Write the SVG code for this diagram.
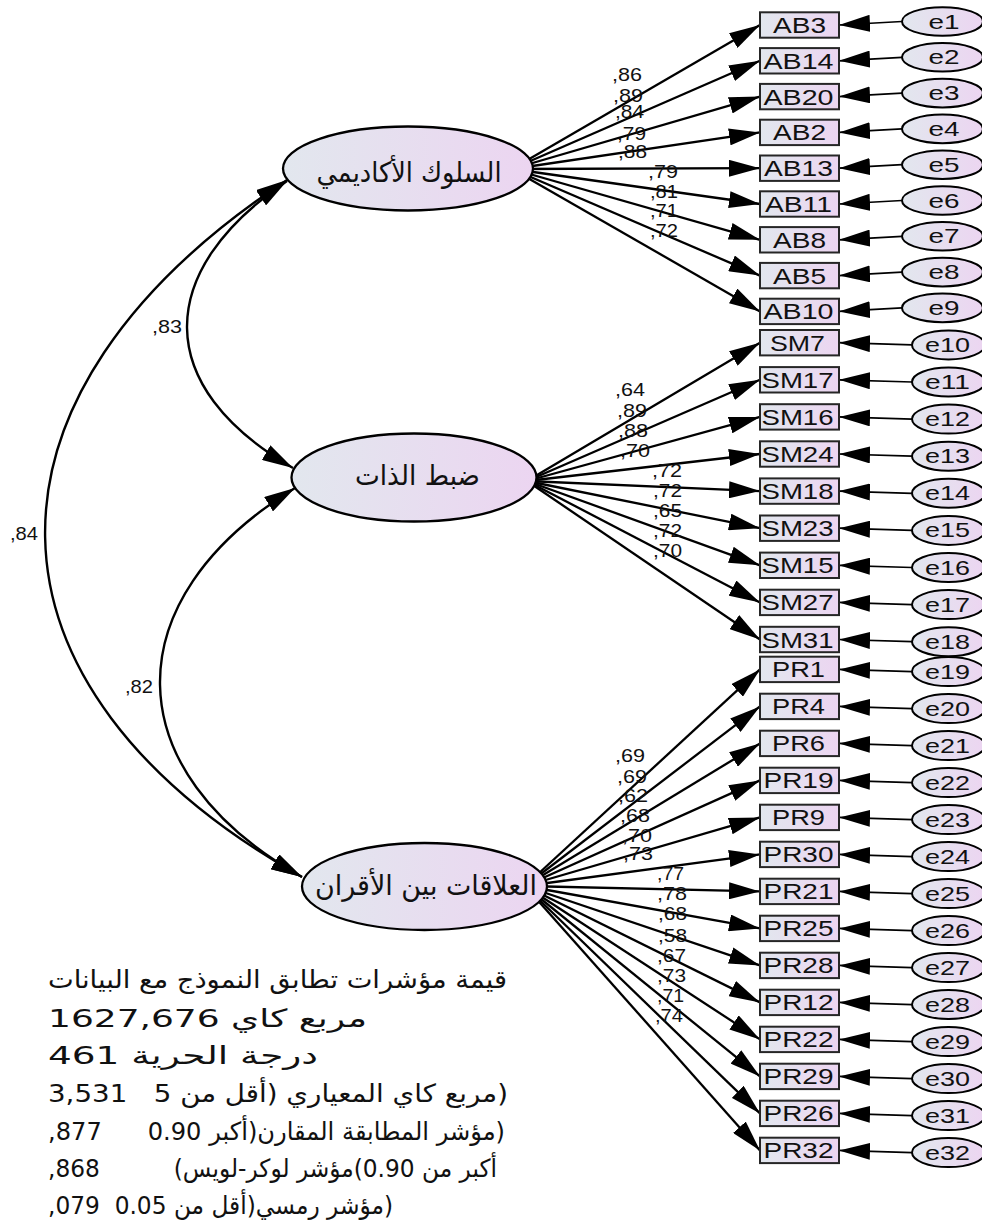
<svg xmlns="http://www.w3.org/2000/svg" width="982" height="1227" viewBox="0 0 982 1227">
<defs>
  <linearGradient id="shade" x1="0" y1="0" x2="1" y2="0">
    <stop offset="0" stop-color="#e2e7ee"/>
    <stop offset="1" stop-color="#ecd5f1"/>
  </linearGradient>
  <marker id="ah" markerUnits="userSpaceOnUse" viewBox="0 0 31 17" markerWidth="31" markerHeight="17" refX="31" refY="8.5" orient="auto-start-reverse">
    <path d="M0,0 L31,8.5 L0,17 z" fill="#000"/>
  </marker>
</defs>
<style>
  .box { fill: url(#shade); stroke: #262626; stroke-width: 2; }
  .ell { fill: url(#shade); stroke: #000; stroke-width: 2; }
  .lat { fill: url(#shade); stroke: #000; stroke-width: 2.3; }
  .t { font-family: "Liberation Sans", Arial, sans-serif; fill: #111; }
  .ot { font-size: 22px; text-anchor: middle; }
  .et { font-size: 21px; text-anchor: middle; }
  .cf { font-size: 19px; }
  .ar { font-family: "DejaVu Sans", "Liberation Sans", sans-serif; fill: #111; }
  .load { stroke: #000; stroke-width: 2.3; fill: none; marker-end: url(#ah); }
  .err { stroke: #000; stroke-width: 1.7; fill: none; marker-end: url(#ah); }
  .cov { stroke: #000; stroke-width: 2.4; fill: none; marker-start: url(#ah); marker-end: url(#ah); }
</style>

<!-- paths: loadings, residual arrows, covariances -->
<g id="connectors">
  <!-- academic behaviour loadings -->
  <line class="load" x1="512" y1="169" x2="760" y2="25.0"/>
  <line class="load" x1="512" y1="169" x2="760" y2="60.8"/>
  <line class="load" x1="512" y1="169" x2="760" y2="96.6"/>
  <line class="load" x1="512" y1="169" x2="760" y2="132.4"/>
  <line class="load" x1="512" y1="169" x2="760" y2="168.2"/>
  <line class="load" x1="512" y1="169" x2="760" y2="204.0"/>
  <line class="load" x1="512" y1="169" x2="760" y2="239.8"/>
  <line class="load" x1="512" y1="169" x2="760" y2="275.6"/>
  <line class="load" x1="512" y1="169" x2="760" y2="311.4"/>
  <!-- self-control loadings -->
  <line class="load" x1="527" y1="481" x2="760" y2="342.7"/>
  <line class="load" x1="527" y1="481" x2="760" y2="379.8"/>
  <line class="load" x1="527" y1="481" x2="760" y2="416.9"/>
  <line class="load" x1="527" y1="481" x2="760" y2="454.0"/>
  <line class="load" x1="527" y1="481" x2="760" y2="491.1"/>
  <line class="load" x1="527" y1="481" x2="760" y2="528.2"/>
  <line class="load" x1="527" y1="481" x2="760" y2="565.3"/>
  <line class="load" x1="527" y1="481" x2="760" y2="602.4"/>
  <line class="load" x1="527" y1="481" x2="760" y2="639.5"/>
  <!-- peer relations loadings -->
  <line class="load" x1="525" y1="886" x2="760" y2="669.4"/>
  <line class="load" x1="525" y1="886" x2="760" y2="706.4"/>
  <line class="load" x1="525" y1="886" x2="760" y2="743.4"/>
  <line class="load" x1="525" y1="886" x2="760" y2="780.4"/>
  <line class="load" x1="525" y1="886" x2="760" y2="817.4"/>
  <line class="load" x1="525" y1="886" x2="760" y2="854.4"/>
  <line class="load" x1="525" y1="886" x2="760" y2="891.4"/>
  <line class="load" x1="525" y1="886" x2="760" y2="928.4"/>
  <line class="load" x1="525" y1="886" x2="760" y2="965.4"/>
  <line class="load" x1="525" y1="886" x2="760" y2="1002.4"/>
  <line class="load" x1="525" y1="886" x2="760" y2="1039.4"/>
  <line class="load" x1="525" y1="886" x2="760" y2="1076.4"/>
  <line class="load" x1="525" y1="886" x2="760" y2="1113.4"/>
  <line class="load" x1="525" y1="886" x2="760" y2="1150.4"/>
  <!-- residual arrows -->
  <line class="err" x1="902" y1="21.5" x2="839" y2="25.0"/>
  <line class="err" x1="902" y1="57.3" x2="839" y2="60.8"/>
  <line class="err" x1="902" y1="93.1" x2="839" y2="96.6"/>
  <line class="err" x1="902" y1="128.9" x2="839" y2="132.4"/>
  <line class="err" x1="902" y1="164.7" x2="839" y2="168.2"/>
  <line class="err" x1="902" y1="200.5" x2="839" y2="204.0"/>
  <line class="err" x1="902" y1="236.3" x2="839" y2="239.8"/>
  <line class="err" x1="902" y1="272.1" x2="839" y2="275.6"/>
  <line class="err" x1="902" y1="307.9" x2="839" y2="311.4"/>
  <line class="err" x1="912" y1="344.9" x2="839" y2="342.7"/>
  <line class="err" x1="912" y1="382.0" x2="839" y2="379.8"/>
  <line class="err" x1="912" y1="419.1" x2="839" y2="416.9"/>
  <line class="err" x1="912" y1="456.2" x2="839" y2="454.0"/>
  <line class="err" x1="912" y1="493.3" x2="839" y2="491.1"/>
  <line class="err" x1="912" y1="530.4" x2="839" y2="528.2"/>
  <line class="err" x1="912" y1="567.5" x2="839" y2="565.3"/>
  <line class="err" x1="912" y1="604.6" x2="839" y2="602.4"/>
  <line class="err" x1="912" y1="641.7" x2="839" y2="639.5"/>
  <line class="err" x1="912" y1="671.6" x2="839" y2="669.4"/>
  <line class="err" x1="912" y1="708.6" x2="839" y2="706.4"/>
  <line class="err" x1="912" y1="745.6" x2="839" y2="743.4"/>
  <line class="err" x1="912" y1="782.6" x2="839" y2="780.4"/>
  <line class="err" x1="912" y1="819.6" x2="839" y2="817.4"/>
  <line class="err" x1="912" y1="856.6" x2="839" y2="854.4"/>
  <line class="err" x1="912" y1="893.6" x2="839" y2="891.4"/>
  <line class="err" x1="912" y1="930.6" x2="839" y2="928.4"/>
  <line class="err" x1="912" y1="967.6" x2="839" y2="965.4"/>
  <line class="err" x1="912" y1="1004.6" x2="839" y2="1002.4"/>
  <line class="err" x1="912" y1="1041.6" x2="839" y2="1039.4"/>
  <line class="err" x1="912" y1="1078.6" x2="839" y2="1076.4"/>
  <line class="err" x1="912" y1="1115.6" x2="839" y2="1113.4"/>
  <line class="err" x1="912" y1="1152.6" x2="839" y2="1150.4"/>
  <!-- covariances between factors -->
  <path class="cov" d="M287,180 C-39,394.5 -37,686 302,877"/>
  <path class="cov" d="M287,181 C153,271.5 152.4,387.2 293,468"/>
  <path class="cov" d="M295,488 C112.5,599.6 115.2,771.8 302,877"/>
</g>

<!-- loading and correlation coefficients -->
<g id="coefficients" class="t cf">
  <text x="612" y="80.7" textLength="30" lengthAdjust="spacingAndGlyphs">,86</text>
  <text x="613" y="101.7" textLength="30" lengthAdjust="spacingAndGlyphs">,89</text>
  <text x="615" y="118.3" textLength="29" lengthAdjust="spacingAndGlyphs">,84</text>
  <text x="617" y="140" textLength="29" lengthAdjust="spacingAndGlyphs">,79</text>
  <text x="618" y="158.3" textLength="29" lengthAdjust="spacingAndGlyphs">,88</text>
  <text x="648" y="178.3" textLength="30" lengthAdjust="spacingAndGlyphs">,79</text>
  <text x="650" y="198.3" textLength="28" lengthAdjust="spacingAndGlyphs">,81</text>
  <text x="650" y="216.7" textLength="28" lengthAdjust="spacingAndGlyphs">,71</text>
  <text x="650" y="236.7" textLength="28" lengthAdjust="spacingAndGlyphs">,72</text>

  <text x="615" y="396" textLength="30" lengthAdjust="spacingAndGlyphs">,64</text>
  <text x="617" y="416.7" textLength="30" lengthAdjust="spacingAndGlyphs">,89</text>
  <text x="618" y="436.7" textLength="30" lengthAdjust="spacingAndGlyphs">,88</text>
  <text x="620" y="456.7" textLength="30" lengthAdjust="spacingAndGlyphs">,70</text>
  <text x="652" y="476.7" textLength="30" lengthAdjust="spacingAndGlyphs">,72</text>
  <text x="653" y="496.7" textLength="29" lengthAdjust="spacingAndGlyphs">,72</text>
  <text x="653" y="516.7" textLength="29" lengthAdjust="spacingAndGlyphs">,65</text>
  <text x="653" y="536.7" textLength="29" lengthAdjust="spacingAndGlyphs">,72</text>
  <text x="653" y="556.7" textLength="29" lengthAdjust="spacingAndGlyphs">,70</text>

  <text x="615" y="761.7" textLength="30" lengthAdjust="spacingAndGlyphs">,69</text>
  <text x="617" y="783.3" textLength="30" lengthAdjust="spacingAndGlyphs">,69</text>
  <text x="618" y="801.7" textLength="30" lengthAdjust="spacingAndGlyphs">,62</text>
  <text x="620" y="821.7" textLength="30" lengthAdjust="spacingAndGlyphs">,68</text>
  <text x="622" y="841.7" textLength="30" lengthAdjust="spacingAndGlyphs">,70</text>
  <text x="623" y="860" textLength="30" lengthAdjust="spacingAndGlyphs">,73</text>
  <text x="657" y="880" textLength="27" lengthAdjust="spacingAndGlyphs">,77</text>
  <text x="657" y="900" textLength="30" lengthAdjust="spacingAndGlyphs">,78</text>
  <text x="658" y="920" textLength="29" lengthAdjust="spacingAndGlyphs">,68</text>
  <text x="658" y="941.7" textLength="29" lengthAdjust="spacingAndGlyphs">,58</text>
  <text x="657" y="961.7" textLength="29" lengthAdjust="spacingAndGlyphs">,67</text>
  <text x="657" y="981.7" textLength="29" lengthAdjust="spacingAndGlyphs">,73</text>
  <text x="657" y="1001.7" textLength="27" lengthAdjust="spacingAndGlyphs">,71</text>
  <text x="655" y="1021.7" textLength="28" lengthAdjust="spacingAndGlyphs">,74</text>

  <text x="10" y="540" textLength="28" lengthAdjust="spacingAndGlyphs">,84</text>
  <text x="152" y="333" textLength="30" lengthAdjust="spacingAndGlyphs">,83</text>
  <text x="125" y="693" textLength="28" lengthAdjust="spacingAndGlyphs">,82</text>
</g>

<!-- latent factors -->
<g id="academic-behaviour">
  <ellipse class="lat" cx="408" cy="168.5" rx="125" ry="42"/>
  <text class="ar" x="409" y="182" font-size="28" text-anchor="middle" direction="rtl" textLength="185" lengthAdjust="spacingAndGlyphs">السلوك الأكاديمي</text>
</g>
<g id="self-control">
  <ellipse class="lat" cx="414" cy="477.5" rx="122.5" ry="44"/>
  <text class="ar" x="417.5" y="485" font-size="28" text-anchor="middle" direction="rtl" textLength="125" lengthAdjust="spacingAndGlyphs">ضبط الذات</text>
</g>
<g id="peer-relations">
  <ellipse class="lat" cx="424.5" cy="886.5" rx="122.5" ry="43.5"/>
  <text class="ar" x="426" y="895" font-size="28" text-anchor="middle" direction="rtl" textLength="222" lengthAdjust="spacingAndGlyphs">العلاقات بين الأقران</text>
</g>

<!-- observed indicators -->
<g id="AB3"><rect class="box" x="760" y="12.3" width="79" height="25.4"/><text class="t ot" x="799.5" y="33.0" textLength="53" lengthAdjust="spacingAndGlyphs">AB3</text></g>
<g id="AB14"><rect class="box" x="760" y="48.1" width="79" height="25.4"/><text class="t ot" x="798.5" y="68.8" textLength="70" lengthAdjust="spacingAndGlyphs">AB14</text></g>
<g id="AB20"><rect class="box" x="760" y="83.9" width="79" height="25.4"/><text class="t ot" x="798.5" y="104.6" textLength="70" lengthAdjust="spacingAndGlyphs">AB20</text></g>
<g id="AB2"><rect class="box" x="760" y="119.7" width="79" height="25.4"/><text class="t ot" x="799.5" y="140.4" textLength="53" lengthAdjust="spacingAndGlyphs">AB2</text></g>
<g id="AB13"><rect class="box" x="760" y="155.5" width="79" height="25.4"/><text class="t ot" x="798.5" y="176.2" textLength="69" lengthAdjust="spacingAndGlyphs">AB13</text></g>
<g id="AB11"><rect class="box" x="760" y="191.3" width="79" height="25.4"/><text class="t ot" x="798.5" y="212.0" textLength="67" lengthAdjust="spacingAndGlyphs">AB11</text></g>
<g id="AB8"><rect class="box" x="760" y="227.1" width="79" height="25.4"/><text class="t ot" x="799.5" y="247.8" textLength="53" lengthAdjust="spacingAndGlyphs">AB8</text></g>
<g id="AB5"><rect class="box" x="760" y="262.9" width="79" height="25.4"/><text class="t ot" x="799.5" y="283.6" textLength="53" lengthAdjust="spacingAndGlyphs">AB5</text></g>
<g id="AB10"><rect class="box" x="760" y="298.7" width="79" height="25.4"/><text class="t ot" x="798.5" y="319.4" textLength="70" lengthAdjust="spacingAndGlyphs">AB10</text></g>

<g id="SM7"><rect class="box" x="760" y="330.0" width="79" height="25.4"/><text class="t ot" x="797.5" y="350.7" textLength="55" lengthAdjust="spacingAndGlyphs">SM7</text></g>
<g id="SM17"><rect class="box" x="760" y="367.1" width="79" height="25.4"/><text class="t ot" x="797.5" y="387.8" textLength="72" lengthAdjust="spacingAndGlyphs">SM17</text></g>
<g id="SM16"><rect class="box" x="760" y="404.2" width="79" height="25.4"/><text class="t ot" x="797.5" y="424.9" textLength="72" lengthAdjust="spacingAndGlyphs">SM16</text></g>
<g id="SM24"><rect class="box" x="760" y="441.3" width="79" height="25.4"/><text class="t ot" x="797.5" y="462.0" textLength="72" lengthAdjust="spacingAndGlyphs">SM24</text></g>
<g id="SM18"><rect class="box" x="760" y="478.4" width="79" height="25.4"/><text class="t ot" x="797.5" y="499.1" textLength="72" lengthAdjust="spacingAndGlyphs">SM18</text></g>
<g id="SM23"><rect class="box" x="760" y="515.5" width="79" height="25.4"/><text class="t ot" x="797.5" y="536.2" textLength="72" lengthAdjust="spacingAndGlyphs">SM23</text></g>
<g id="SM15"><rect class="box" x="760" y="552.6" width="79" height="25.4"/><text class="t ot" x="797.5" y="573.3" textLength="72" lengthAdjust="spacingAndGlyphs">SM15</text></g>
<g id="SM27"><rect class="box" x="760" y="589.7" width="79" height="25.4"/><text class="t ot" x="797.5" y="610.4" textLength="72" lengthAdjust="spacingAndGlyphs">SM27</text></g>
<g id="SM31"><rect class="box" x="760" y="626.8" width="79" height="25.4"/><text class="t ot" x="797.5" y="647.5" textLength="72" lengthAdjust="spacingAndGlyphs">SM31</text></g>

<g id="PR1"><rect class="box" x="760" y="656.7" width="79" height="25.4"/><text class="t ot" x="798.5" y="677.4" textLength="53" lengthAdjust="spacingAndGlyphs">PR1</text></g>
<g id="PR4"><rect class="box" x="760" y="693.7" width="79" height="25.4"/><text class="t ot" x="798.5" y="714.4" textLength="53" lengthAdjust="spacingAndGlyphs">PR4</text></g>
<g id="PR6"><rect class="box" x="760" y="730.7" width="79" height="25.4"/><text class="t ot" x="798.5" y="751.4" textLength="53" lengthAdjust="spacingAndGlyphs">PR6</text></g>
<g id="PR19"><rect class="box" x="760" y="767.7" width="79" height="25.4"/><text class="t ot" x="798.5" y="788.4" textLength="70" lengthAdjust="spacingAndGlyphs">PR19</text></g>
<g id="PR9"><rect class="box" x="760" y="804.7" width="79" height="25.4"/><text class="t ot" x="798.5" y="825.4" textLength="53" lengthAdjust="spacingAndGlyphs">PR9</text></g>
<g id="PR30"><rect class="box" x="760" y="841.7" width="79" height="25.4"/><text class="t ot" x="798.5" y="862.4" textLength="70" lengthAdjust="spacingAndGlyphs">PR30</text></g>
<g id="PR21"><rect class="box" x="760" y="878.7" width="79" height="25.4"/><text class="t ot" x="798.5" y="899.4" textLength="70" lengthAdjust="spacingAndGlyphs">PR21</text></g>
<g id="PR25"><rect class="box" x="760" y="915.7" width="79" height="25.4"/><text class="t ot" x="798.5" y="936.4" textLength="70" lengthAdjust="spacingAndGlyphs">PR25</text></g>
<g id="PR28"><rect class="box" x="760" y="952.7" width="79" height="25.4"/><text class="t ot" x="798.5" y="973.4" textLength="70" lengthAdjust="spacingAndGlyphs">PR28</text></g>
<g id="PR12"><rect class="box" x="760" y="989.7" width="79" height="25.4"/><text class="t ot" x="798.5" y="1010.4" textLength="70" lengthAdjust="spacingAndGlyphs">PR12</text></g>
<g id="PR22"><rect class="box" x="760" y="1026.7" width="79" height="25.4"/><text class="t ot" x="798.5" y="1047.4" textLength="70" lengthAdjust="spacingAndGlyphs">PR22</text></g>
<g id="PR29"><rect class="box" x="760" y="1063.7" width="79" height="25.4"/><text class="t ot" x="798.5" y="1084.4" textLength="70" lengthAdjust="spacingAndGlyphs">PR29</text></g>
<g id="PR26"><rect class="box" x="760" y="1100.7" width="79" height="25.4"/><text class="t ot" x="798.5" y="1121.4" textLength="70" lengthAdjust="spacingAndGlyphs">PR26</text></g>
<g id="PR32"><rect class="box" x="760" y="1137.7" width="79" height="25.4"/><text class="t ot" x="798.5" y="1158.4" textLength="70" lengthAdjust="spacingAndGlyphs">PR32</text></g>

<!-- residual terms -->
<g id="e1"><ellipse class="ell" cx="942.5" cy="21.5" rx="40.5" ry="14.3"/><text class="t et" x="944" y="28.5" textLength="31" lengthAdjust="spacingAndGlyphs">e1</text></g>
<g id="e2"><ellipse class="ell" cx="942.5" cy="57.3" rx="40.5" ry="14.3"/><text class="t et" x="944" y="64.3" textLength="31" lengthAdjust="spacingAndGlyphs">e2</text></g>
<g id="e3"><ellipse class="ell" cx="942.5" cy="93.1" rx="40.5" ry="14.3"/><text class="t et" x="944" y="100.1" textLength="31" lengthAdjust="spacingAndGlyphs">e3</text></g>
<g id="e4"><ellipse class="ell" cx="942.5" cy="128.9" rx="40.5" ry="14.3"/><text class="t et" x="944" y="135.9" textLength="31" lengthAdjust="spacingAndGlyphs">e4</text></g>
<g id="e5"><ellipse class="ell" cx="942.5" cy="164.7" rx="40.5" ry="14.3"/><text class="t et" x="944" y="171.7" textLength="31" lengthAdjust="spacingAndGlyphs">e5</text></g>
<g id="e6"><ellipse class="ell" cx="942.5" cy="200.5" rx="40.5" ry="14.3"/><text class="t et" x="944" y="207.5" textLength="31" lengthAdjust="spacingAndGlyphs">e6</text></g>
<g id="e7"><ellipse class="ell" cx="942.5" cy="236.3" rx="40.5" ry="14.3"/><text class="t et" x="944" y="243.3" textLength="31" lengthAdjust="spacingAndGlyphs">e7</text></g>
<g id="e8"><ellipse class="ell" cx="942.5" cy="272.1" rx="40.5" ry="14.3"/><text class="t et" x="944" y="279.1" textLength="31" lengthAdjust="spacingAndGlyphs">e8</text></g>
<g id="e9"><ellipse class="ell" cx="942.5" cy="307.9" rx="40.5" ry="14.3"/><text class="t et" x="944" y="314.9" textLength="31" lengthAdjust="spacingAndGlyphs">e9</text></g>
<g id="e10"><ellipse class="ell" cx="948.5" cy="344.9" rx="36.5" ry="14.5"/><text class="t et" x="947.5" y="351.9" textLength="45" lengthAdjust="spacingAndGlyphs">e10</text></g>
<g id="e11"><ellipse class="ell" cx="948.5" cy="382.0" rx="36.5" ry="14.5"/><text class="t et" x="947.5" y="389.0" textLength="45" lengthAdjust="spacingAndGlyphs">e11</text></g>
<g id="e12"><ellipse class="ell" cx="948.5" cy="419.1" rx="36.5" ry="14.5"/><text class="t et" x="947.5" y="426.1" textLength="45" lengthAdjust="spacingAndGlyphs">e12</text></g>
<g id="e13"><ellipse class="ell" cx="948.5" cy="456.2" rx="36.5" ry="14.5"/><text class="t et" x="947.5" y="463.2" textLength="45" lengthAdjust="spacingAndGlyphs">e13</text></g>
<g id="e14"><ellipse class="ell" cx="948.5" cy="493.3" rx="36.5" ry="14.5"/><text class="t et" x="947.5" y="500.3" textLength="45" lengthAdjust="spacingAndGlyphs">e14</text></g>
<g id="e15"><ellipse class="ell" cx="948.5" cy="530.4" rx="36.5" ry="14.5"/><text class="t et" x="947.5" y="537.4" textLength="45" lengthAdjust="spacingAndGlyphs">e15</text></g>
<g id="e16"><ellipse class="ell" cx="948.5" cy="567.5" rx="36.5" ry="14.5"/><text class="t et" x="947.5" y="574.5" textLength="45" lengthAdjust="spacingAndGlyphs">e16</text></g>
<g id="e17"><ellipse class="ell" cx="948.5" cy="604.6" rx="36.5" ry="14.5"/><text class="t et" x="947.5" y="611.6" textLength="45" lengthAdjust="spacingAndGlyphs">e17</text></g>
<g id="e18"><ellipse class="ell" cx="948.5" cy="641.7" rx="36.5" ry="14.5"/><text class="t et" x="947.5" y="648.7" textLength="45" lengthAdjust="spacingAndGlyphs">e18</text></g>
<g id="e19"><ellipse class="ell" cx="948.5" cy="671.6" rx="36.5" ry="14.5"/><text class="t et" x="947.5" y="678.6" textLength="45" lengthAdjust="spacingAndGlyphs">e19</text></g>
<g id="e20"><ellipse class="ell" cx="948.5" cy="708.6" rx="36.5" ry="14.5"/><text class="t et" x="947.5" y="715.6" textLength="45" lengthAdjust="spacingAndGlyphs">e20</text></g>
<g id="e21"><ellipse class="ell" cx="948.5" cy="745.6" rx="36.5" ry="14.5"/><text class="t et" x="947.5" y="752.6" textLength="45" lengthAdjust="spacingAndGlyphs">e21</text></g>
<g id="e22"><ellipse class="ell" cx="948.5" cy="782.6" rx="36.5" ry="14.5"/><text class="t et" x="947.5" y="789.6" textLength="45" lengthAdjust="spacingAndGlyphs">e22</text></g>
<g id="e23"><ellipse class="ell" cx="948.5" cy="819.6" rx="36.5" ry="14.5"/><text class="t et" x="947.5" y="826.6" textLength="45" lengthAdjust="spacingAndGlyphs">e23</text></g>
<g id="e24"><ellipse class="ell" cx="948.5" cy="856.6" rx="36.5" ry="14.5"/><text class="t et" x="947.5" y="863.6" textLength="45" lengthAdjust="spacingAndGlyphs">e24</text></g>
<g id="e25"><ellipse class="ell" cx="948.5" cy="893.6" rx="36.5" ry="14.5"/><text class="t et" x="947.5" y="900.6" textLength="45" lengthAdjust="spacingAndGlyphs">e25</text></g>
<g id="e26"><ellipse class="ell" cx="948.5" cy="930.6" rx="36.5" ry="14.5"/><text class="t et" x="947.5" y="937.6" textLength="45" lengthAdjust="spacingAndGlyphs">e26</text></g>
<g id="e27"><ellipse class="ell" cx="948.5" cy="967.6" rx="36.5" ry="14.5"/><text class="t et" x="947.5" y="974.6" textLength="45" lengthAdjust="spacingAndGlyphs">e27</text></g>
<g id="e28"><ellipse class="ell" cx="948.5" cy="1004.6" rx="36.5" ry="14.5"/><text class="t et" x="947.5" y="1011.6" textLength="45" lengthAdjust="spacingAndGlyphs">e28</text></g>
<g id="e29"><ellipse class="ell" cx="948.5" cy="1041.6" rx="36.5" ry="14.5"/><text class="t et" x="947.5" y="1048.6" textLength="45" lengthAdjust="spacingAndGlyphs">e29</text></g>
<g id="e30"><ellipse class="ell" cx="948.5" cy="1078.6" rx="36.5" ry="14.5"/><text class="t et" x="947.5" y="1085.6" textLength="45" lengthAdjust="spacingAndGlyphs">e30</text></g>
<g id="e31"><ellipse class="ell" cx="948.5" cy="1115.6" rx="36.5" ry="14.5"/><text class="t et" x="947.5" y="1122.6" textLength="45" lengthAdjust="spacingAndGlyphs">e31</text></g>
<g id="e32"><ellipse class="ell" cx="948.5" cy="1152.6" rx="36.5" ry="14.5"/><text class="t et" x="947.5" y="1159.6" textLength="45" lengthAdjust="spacingAndGlyphs">e32</text></g>

<!-- fit indices -->
<g id="fit-indices" class="ar" font-size="25">
  <text xml:space="preserve" x="48" y="988" direction="rtl" text-anchor="end" textLength="459" lengthAdjust="spacingAndGlyphs">قيمة مؤشرات تطابق النموذج مع البيانات</text>
  <text xml:space="preserve" x="48" y="1027" direction="rtl" text-anchor="end" textLength="319" lengthAdjust="spacingAndGlyphs">مربع كاي 1627,676</text>
  <text xml:space="preserve" x="48" y="1064" direction="rtl" text-anchor="end" textLength="270" lengthAdjust="spacingAndGlyphs">درجة الحرية 461</text>
  <text xml:space="preserve" x="48" y="1102" direction="rtl" text-anchor="end" textLength="460" lengthAdjust="spacingAndGlyphs">(مربع كاي المعياري (أقل من 5   3,531</text>
  <text xml:space="preserve" x="48" y="1140" direction="rtl" text-anchor="end" textLength="457" lengthAdjust="spacingAndGlyphs">(مؤشر المطابقة المقارن(أكبر 0.90      877,</text>
  <text xml:space="preserve" x="48" y="1177" direction="rtl" text-anchor="end" textLength="449" lengthAdjust="spacingAndGlyphs">أكبر من 0.90)مؤشر لوكر-لويس)          868,</text>
  <text xml:space="preserve" x="48" y="1214" direction="rtl" text-anchor="end" textLength="345" lengthAdjust="spacingAndGlyphs">(مؤشر رمسي(أقل من 0.05  079,</text>
</g>
</svg>
